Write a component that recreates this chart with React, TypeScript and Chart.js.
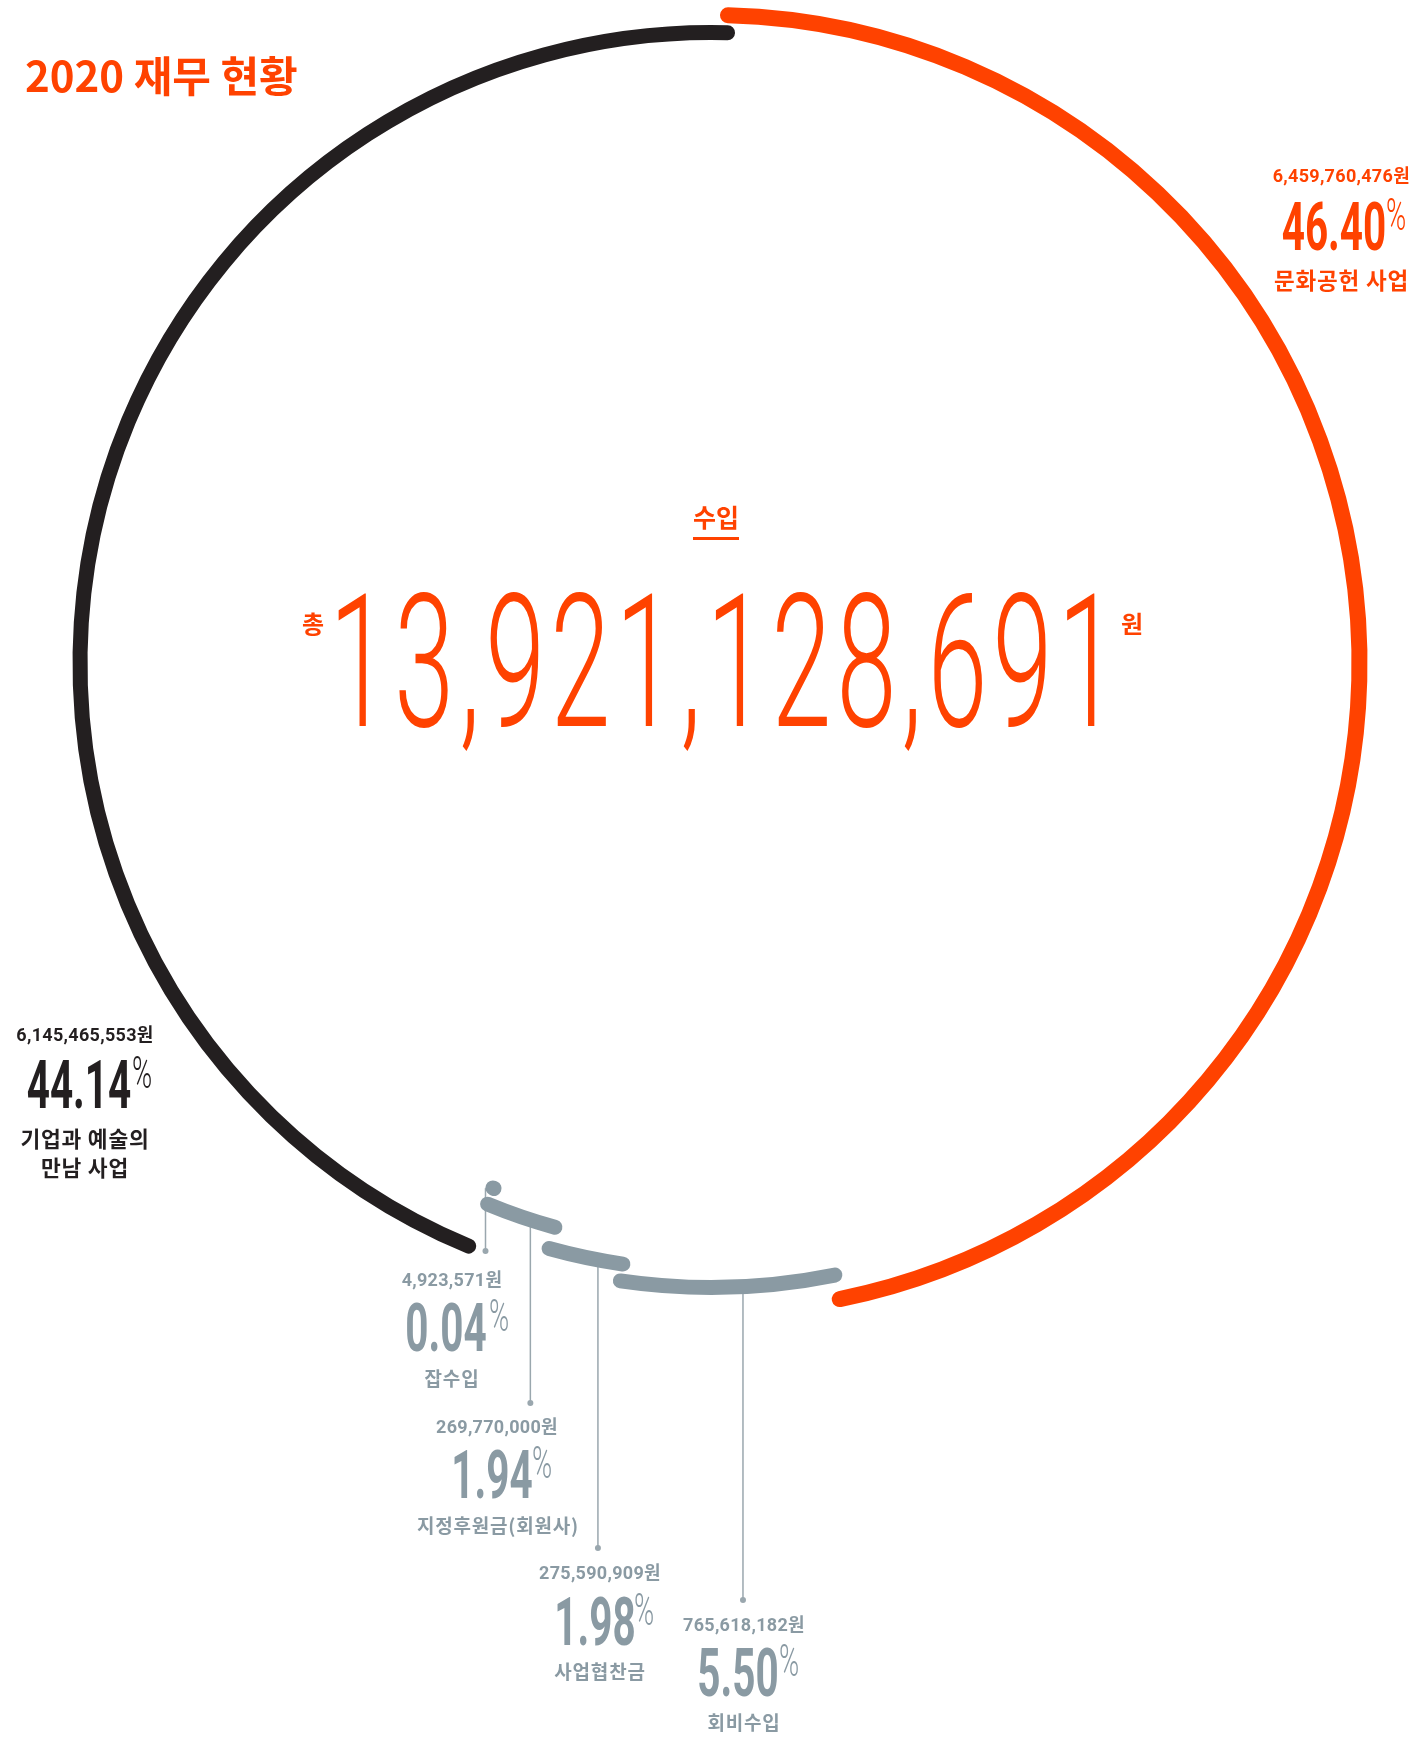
import React, { useEffect, useRef } from 'react';
import { Chart, registerables } from 'chart.js';

Chart.register(...registerables);

// ---- data ----
const categories = ['문화공헌 사업', '회비수입', '사업협찬금', '지정후원금(회원사)', '잡수입', '기업과 예술의 만남 사업'];
const amounts = [6459760476, 765618182, 275590909, 269770000, 4923571, 6145465553];
const percentLabels = ['46.40', '5.50', '1.98', '1.94', '0.04', '44.14'];
const titleText = '2020 재무 현황';
const centerTitle = '수입';

// ring order outer -> inner (segment indices) and ring band weights
const ringOrder = [0, 5, 1, 2, 3, 4];
const ringWeights = [28, 7, 7, 27, 17, 17];

const ORANGE = '#ff4200';
const BLACK = '#231f20';
const GRAY = '#8a9aa3';
const LEADER = '#9aa7ae';
const segColors = [ORANGE, GRAY, GRAY, GRAY, GRAY, BLACK];
const segStroke = [16, 15, 15, 15, 15, 15];
const leaders: Record<number, { f: number; dx: number; endY: number }> = {
  1: { f: 0.43, dx: 0, endY: 1600 },
  2: { f: 0.335, dx: 0, endY: 1548 },
  3: { f: 0.36, dx: 0, endY: 1403 },
  4: { f: 0.5, dx: -8, endY: 1251 },
};

const KR = '"Noto Sans CJK KR", "Noto Sans", sans-serif';
const NUM = 'Roboto, "Noto Sans CJK KR", sans-serif';

const fmt = (n: number) => n.toLocaleString('en-US');
const total = amounts.reduce((a, b) => a + b, 0);

const strokePlugin = {
  id: 'roundStroke',
  afterDatasetsDraw(chart: any) {
    const ctx = chart.ctx as CanvasRenderingContext2D;
    ctx.save();
    chart.data.datasets.forEach((ds: any, d: number) => {
      const seg = ds.segIndex;
      const L = leaders[seg];
      if (!L) return;
      const arc: any = chart.getDatasetMeta(d).data[seg];
      const r = (arc.innerRadius + arc.outerRadius) / 2;
      const a = arc.startAngle + L.f * (arc.endAngle - arc.startAngle);
      const x0 = arc.x + r * Math.cos(a) + L.dx;
      const y0 = arc.y + r * Math.sin(a);
      ctx.strokeStyle = LEADER;
      ctx.lineWidth = 1.5;
      ctx.lineCap = 'butt';
      ctx.beginPath();
      ctx.moveTo(x0, y0);
      ctx.lineTo(x0, L.endY);
      ctx.stroke();
      ctx.fillStyle = LEADER;
      ctx.beginPath();
      ctx.arc(x0, L.endY, 3, 0, Math.PI * 2);
      ctx.fill();
    });
    chart.data.datasets.forEach((ds: any, d: number) => {
      const seg = ds.segIndex;
      const arc: any = chart.getDatasetMeta(d).data[seg];
      const r = (arc.innerRadius + arc.outerRadius) / 2;
      ctx.strokeStyle = segColors[seg];
      ctx.lineWidth = segStroke[seg];
      ctx.lineCap = 'round';
      ctx.beginPath();
      ctx.arc(arc.x, arc.y, r, arc.startAngle, arc.endAngle);
      ctx.stroke();
    });
    ctx.restore();
  },
};

type TP = {
  x: number;
  top: number;
  align?: 'left' | 'center' | 'right';
  size: number;
  color: string;
  family?: string;
  weight?: number;
  sx?: number;
  ls?: number;
  extra?: React.CSSProperties;
  children: React.ReactNode;
};

function T({ x, top, align = 'center', size, color, family = KR, weight = 700, sx = 1, ls = 0, extra, children }: TP) {
  const tx = align === 'center' ? '-50%' : align === 'right' ? '-100%' : '0';
  return (
    <div
      style={{
        position: 'absolute',
        left: x,
        top,
        whiteSpace: 'nowrap',
        fontFamily: family,
        fontWeight: weight,
        fontSize: size,
        lineHeight: `${size}px`,
        letterSpacing: ls,
        color,
        transform: `scaleX(${sx}) translateX(${tx})`,
        transformOrigin: 'left top',
        ...extra,
      }}
    >
      {children}
    </div>
  );
}

type Block = {
  seg: number;
  color: string;
  amtX: number; amtTop: number; amtAlign?: 'left' | 'center' | 'right';
  pctX: number; pctTop: number;
  signX: number; signTop: number;
  labels: { x: number; top: number; text: string; align?: 'left' | 'center' | 'right' }[];
  labelSize: number;
};

const blocks: Block[] = [
  {
    seg: 0, color: ORANGE,
    amtX: 1410, amtTop: 166.5, amtAlign: 'right',
    pctX: 1333.5, pctTop: 193.2, signX: 1386, signTop: 193,
    labels: [{ x: 1409, top: 268, text: categories[0], align: 'right' }], labelSize: 22.5,
  },
  {
    seg: 5, color: BLACK,
    amtX: 85, amtTop: 1025.8,
    pctX: 78.5, pctTop: 1051.2, signX: 132, signTop: 1051,
    labels: [
      { x: 85, top: 1127, text: '기업과 예술의' },
      { x: 85, top: 1156, text: '만남 사업' },
    ], labelSize: 21.5,
  },
  {
    seg: 4, color: GRAY,
    amtX: 452, amtTop: 1270.8,
    pctX: 446, pctTop: 1294.2, signX: 489, signTop: 1294,
    labels: [{ x: 452, top: 1368, text: categories[4] }], labelSize: 19,
  },
  {
    seg: 3, color: GRAY,
    amtX: 497, amtTop: 1417.8,
    pctX: 491.5, pctTop: 1441.2, signX: 532, signTop: 1441,
    labels: [{ x: 498, top: 1514.5, text: categories[3] }], labelSize: 19,
  },
  {
    seg: 2, color: GRAY,
    amtX: 600, amtTop: 1563.8,
    pctX: 594.5, pctTop: 1588.2, signX: 634, signTop: 1588,
    labels: [{ x: 600, top: 1660.5, text: categories[2] }], labelSize: 19,
  },
  {
    seg: 1, color: GRAY,
    amtX: 744, amtTop: 1615.8,
    pctX: 737.5, pctTop: 1639.2, signX: 779, signTop: 1639,
    labels: [{ x: 744, top: 1712, text: categories[1] }], labelSize: 19,
  },
];

export default function App() {
  const ref = useRef<HTMLCanvasElement | null>(null);

  useEffect(() => {
    if (!ref.current) return;
    const chart = new Chart(ref.current, {
      type: 'doughnut',
      data: {
        labels: categories,
        datasets: ringOrder.map((seg, i) => ({
          data: amounts,
          segIndex: seg,
          weight: ringWeights[i],
          backgroundColor: 'rgba(0,0,0,0)',
          borderWidth: 0,
          hoverBorderWidth: 0,
          offset: 0,
          hoverOffset: 0,
        })) as any,
      },
      options: {
        responsive: false,
        animation: false,
        events: [],
        rotation: 1.5,
        cutout: 559.5,
        layout: { padding: { left: 48.5, top: 1, right: 41.5, bottom: 411 } },
        plugins: { legend: { display: false }, tooltip: { enabled: false } },
      } as any,
      plugins: [strokePlugin],
    });
    return () => chart.destroy();
  }, []);

  return (
    <div style={{ position: 'absolute', left: 0, top: 0, width: 1415, height: 1737, overflow: 'hidden', background: '#fff' }}>
      <canvas ref={ref} width={1415} height={1737} style={{ position: 'absolute', left: 0, top: 0, width: 1415, height: 1737 }} />

      <T x={25} top={52.5} align="left" size={42} color={ORANGE}>{titleText}</T>

      <T x={716} top={503.5} size={25} color={ORANGE} extra={{ borderBottom: `3px solid ${ORANGE}`, paddingBottom: 8.5 }}>{centerTitle}</T>
      <T x={313} top={611} size={24} color={ORANGE}>총</T>
      <T x={1132} top={611} size={24} color={ORANGE}>원</T>
      <T x={726} top={569} size={186} color={ORANGE} family={NUM} weight={300} sx={0.58} ls={9}>{fmt(total)}</T>

      {blocks.map((b) => (
        <React.Fragment key={b.seg}>
          <T x={b.amtX} top={b.amtTop} align={b.amtAlign || 'center'} size={18} color={b.color} family={NUM} weight={700} ls={0.3}>
            {fmt(amounts[b.seg])}원
          </T>
          <T x={b.pctX} top={b.pctTop} size={67.5} color={b.color} family={NUM} weight={700} sx={0.6}>
            {percentLabels[b.seg]}
          </T>
          <T x={b.signX} top={b.signTop} align="left" size={44} color={b.color} family={NUM} weight={300} sx={0.62}>
            %
          </T>
          {b.labels.map((l, i) => (
            <T key={i} x={l.x} top={l.top} align={l.align || 'center'} size={b.labelSize} color={b.color} ls={0.8}>
              {l.text}
            </T>
          ))}
        </React.Fragment>
      ))}
    </div>
  );
}
